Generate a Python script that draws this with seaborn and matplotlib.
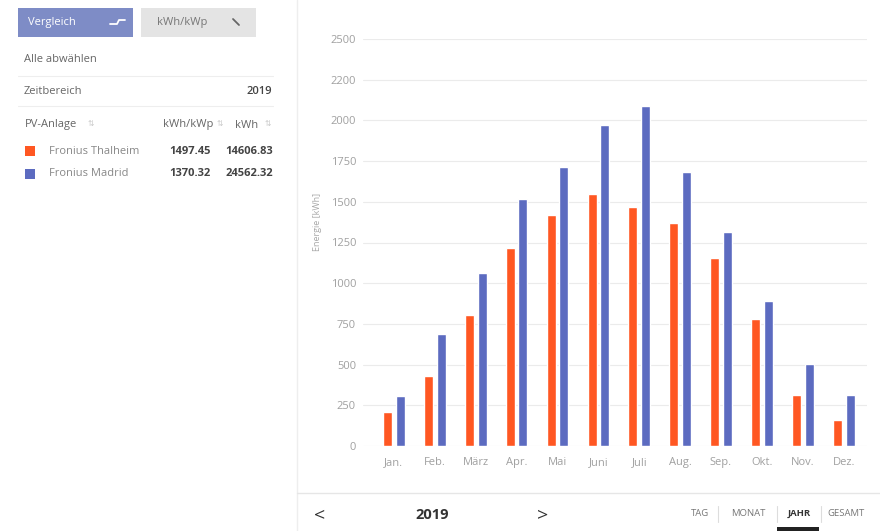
import matplotlib
matplotlib.use("Agg")
import matplotlib.pyplot as plt
from matplotlib.patches import Rectangle
from matplotlib.lines import Line2D
import pandas as pd
import seaborn as sns

# Monthly energy per plant, 2019 (kWh)
months = ["Jan.", "Feb.", "März", "Apr.", "Mai", "Juni", "Juli", "Aug.", "Sep.", "Okt.", "Nov.", "Dez."]
thalheim = [208, 430, 805, 1216, 1417, 1550, 1470, 1368, 1152, 780, 311, 158]
madrid = [307, 688, 1063, 1517, 1714, 1972, 2088, 1681, 1316, 890, 504, 311]
plants = ["Fronius Thalheim", "Fronius Madrid"]
colors = ["#FF5722", "#5C6BC0"]
ytick_values = [0, 250, 500, 750, 1000, 1250, 1500, 1750, 2000, 2250, 2500]
ytick_labels = ["0", "250", "500", "750", "1000", "1250", "1500", "1750", "2000", "2200", "2500"]

# table rows on the left
table_rows = [("Fronius Thalheim", "1497.45", "14606.83"),
              ("Fronius Madrid", "1370.32", "24562.32")]

df = pd.DataFrame({
    "Monat": months * 2,
    "Energie": thalheim + madrid,
    "Anlage": [plants[0]] * 12 + [plants[1]] * 12,
})

sns.set_style("white")
plt.rcParams["font.family"] = ["Open Sans", "DejaVu Sans"]

W, H = 880, 531
fig = plt.figure(figsize=(W / 100, H / 100), dpi=100)


def fx(px):
    return px / W


def fy(py):
    return 1 - py / H


# chart area
ax = fig.add_axes([fx(363), fy(446), fx(867) - fx(363), fy(39) - fy(446)])
sns.barplot(data=df, x="Monat", y="Energie", hue="Anlage", palette=colors, saturation=1,
            width=0.62, gap=0.29, legend=False, ax=ax, zorder=3)
ax.set_xlim(-0.757, 11.57)
ax.set_ylim(0, 2500)
ax.set_yticks(ytick_values)
ax.set_yticklabels(ytick_labels)
ax.grid(axis="y", color="#EBEBEB", linewidth=0.8, zorder=0)
for s in ax.spines.values():
    s.set_visible(False)
ax.tick_params(axis="both", length=0, colors="#A0A0A0", labelsize=8)
ax.tick_params(axis="y", pad=5)
ax.tick_params(axis="x", pad=8)
ax.set_xlabel("")
ax.set_ylabel("")
fig.text(fx(317), fy(222), "Energie [kWh]", rotation=90, ha="center", va="center",
         fontsize=6.5, color="#A8A8A8")

# frame lines
fig.add_artist(Line2D([fx(297), fx(297)], [0, 1], color="#EEEEEE", linewidth=1))
fig.add_artist(Line2D([fx(297), 1], [fy(493), fy(493)], color="#E6E6E6", linewidth=1))

# buttons
fig.add_artist(Rectangle((fx(18), fy(37)), fx(115), fy(8) - fy(37),
                         facecolor="#7E8CC6", edgecolor="none"))
fig.text(fx(28), fy(22), "Vergleich", color="white", fontsize=8, va="center")
fig.add_artist(Line2D([fx(110), fx(117), fx(119), fx(125)],
                      [fy(24), fy(24), fy(20), fy(20)], color="white", linewidth=1.3))
fig.add_artist(Rectangle((fx(141), fy(37)), fx(115), fy(8) - fy(37),
                         facecolor="#E4E4E4", edgecolor="none"))
fig.text(fx(157), fy(22), "kWh/kWp", color="#777777", fontsize=8, va="center")
fig.add_artist(Line2D([fx(233), fx(239)], [fy(19), fy(25)], color="#666666", linewidth=1.3))

# left table
txt = "#666666"
fig.text(fx(24), fy(60), "Alle abwählen", color=txt, fontsize=8, va="center")
fig.add_artist(Line2D([fx(18), fx(273)], [fy(76), fy(76)], color="#EEEEEE", linewidth=0.8))
fig.text(fx(24), fy(91), "Zeitbereich", color=txt, fontsize=8, va="center")
fig.text(fx(272), fy(91), "2019", color="#444444", fontsize=8, va="center", ha="right",
         fontweight="semibold")
fig.add_artist(Line2D([fx(18), fx(273)], [fy(106), fy(106)], color="#EEEEEE", linewidth=0.8))
fig.text(fx(25), fy(125), "PV-Anlage", color=txt, fontsize=8, va="center")
fig.text(fx(88), fy(125), "⇅", color="#C8C8C8", fontsize=5.5, va="center")
fig.text(fx(213), fy(125), "kWh/kWp", color=txt, fontsize=8, va="center", ha="right")
fig.text(fx(217), fy(125), "⇅", color="#C8C8C8", fontsize=5.5, va="center")
fig.text(fx(258), fy(125), "kWh", color=txt, fontsize=8, va="center", ha="right")
fig.text(fx(265), fy(125), "⇅", color="#C8C8C8", fontsize=5.5, va="center")
for i, (name, spec, total) in enumerate(table_rows):
    yc = 151 + i * 23
    fig.add_artist(Rectangle((fx(25), fy(yc + 5)), fx(10), fy(yc - 5) - fy(yc + 5),
                             facecolor=colors[i], edgecolor="none"))
    fig.text(fx(49), fy(yc), name, color="#888888", fontsize=8, va="center")
    fig.text(fx(211), fy(yc), spec, color="#444444", fontsize=8, va="center",
             ha="right", fontweight="bold")
    fig.text(fx(273), fy(yc), total, color="#444444", fontsize=8, va="center",
             ha="right", fontweight="bold")

# bottom navigation
fig.text(fx(320), fy(515), "<", color="#333333", fontsize=14, va="center", ha="center")
fig.text(fx(432), fy(515), "2019", color="#333333", fontsize=10.5, va="center",
         ha="center", fontweight="bold")
fig.text(fx(543), fy(515), ">", color="#333333", fontsize=14, va="center", ha="center")
nav = [("TAG", 700, "normal"), ("MONAT", 748, "normal"), ("JAHR", 799, "bold"), ("GESAMT", 846, "normal")]
for label, xc, w in nav:
    fig.text(fx(xc), fy(514), label, color="#333333" if w == "bold" else "#777777",
             fontsize=6.8, va="center", ha="center", fontweight=w)
for xs in [718, 777, 821]:
    fig.add_artist(Line2D([fx(xs), fx(xs)], [fy(506), fy(522)], color="#DDDDDD", linewidth=0.8))
fig.add_artist(Rectangle((fx(777), 0), fx(42), fy(527), facecolor="#222222", edgecolor="none"))

fig.savefig("out.png", dpi=100)
